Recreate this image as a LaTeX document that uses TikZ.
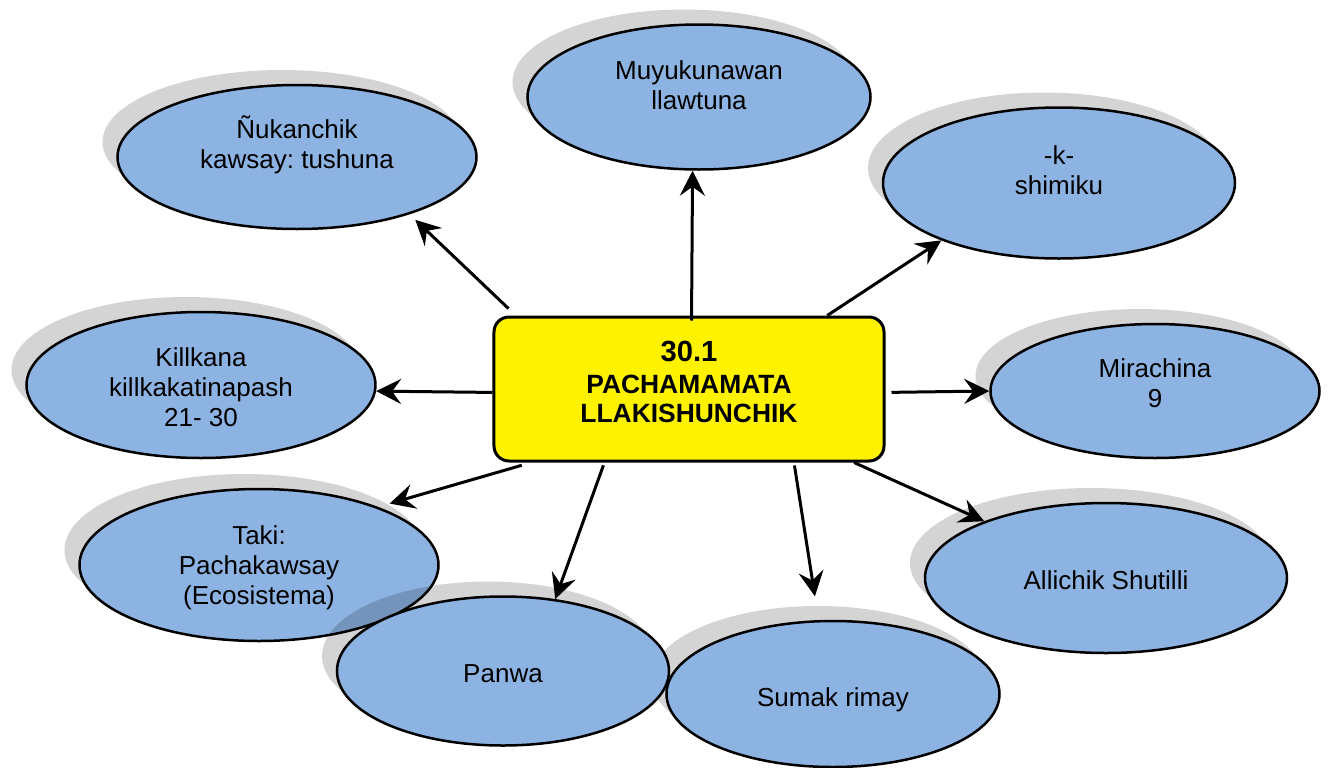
\documentclass[tikz,border=0pt]{standalone}
\usepackage{fontspec}
\setmainfont{Liberation Sans}
\usetikzlibrary{shapes.geometric,shadows,arrows.meta}
\definecolor{bubble}{RGB}{141,179,226}
\frenchspacing

\begin{document}
\begin{tikzpicture}[>={Stealth[length=12.5pt,width=12.5pt,inset=4.5pt]},line width=1.5pt,
    centre node/.style={rectangle,rounded corners=7.5pt,draw,fill=yellow,line width=1.5pt,minimum width=195pt,minimum height=72pt,inner sep=0pt},
    topic node/.style={ellipse,draw,fill=bubble,line width=1.25pt,inner sep=0pt,drop shadow={shadow xshift=-7.5pt,shadow yshift=7.5pt,opacity=0.17,fill=black}},
    topic text/.style={align=center,inner sep=0pt,font=\fontsize{13}{15}\selectfont}]

            \useasboundingbox (-344.5pt,-189pt) rectangle (321.5pt,194.5pt);

            \node[centre node] (c) at (0,0) {};
            \node[align=center,inner sep=0pt,font=\bfseries\fontsize{13.2}{14.5}\selectfont] (c text) at ([yshift=3.75pt]c.center) {{\fontsize{14.6}{16}\selectfont 30.1}\\[1.5pt]PACHAMAMATA\\LLAKISHUNCHIK};

            \node[topic node, minimum width=179.5pt, minimum height=72pt] (nuk) [node distance=116pt, above of = c, xshift = -196pt]{};
            \node[topic text] (nuk text) at ([yshift=6pt]nuk.center) {Ñukanchik\\kawsay: tushuna};
            \node[topic node, minimum width=171.5pt, minimum height=72.5pt] (muyu) [node distance=146pt, above of = c, xshift = 5pt]{};
            \node[topic text] (muyu text) at ([yshift=5.75pt]muyu.center) {Muyukunawan\\llawtuna};
            \node[topic node, minimum width=176pt, minimum height=75.5pt] (kshim) [node distance=103pt, above of = c, xshift = 185pt]{};
            \node[topic text] (kshim text) at ([yshift=6.25pt]kshim.center) {-k-\\shimiku};
            \node[topic node, minimum width=174.5pt, minimum height=73pt] (kill) [node distance=244pt, left of = c, yshift = 2pt]{};
            \node[topic text] (kill text) at ([yshift=-1.25pt]kill.center) {Killkana\\killkakatinapash\\21- 30};
            \node[topic node, minimum width=164.5pt, minimum height=67pt] (mira) [node distance=233pt, right of = c, yshift = -1pt]{};
            \node[topic text] (mira text) at ([yshift=4pt]mira.center) {Mirachina\\9};
            \node[topic node, minimum width=179.5pt, minimum height=76pt] (taki) [node distance=88pt, below of = c, xshift = -215pt]{};
            \node[topic text] (taki text) at ([yshift=-1.5pt]taki.center) {Taki:\\Pachakawsay\\(Ecosistema)};
            \node[topic node, minimum width=181pt, minimum height=75pt] (alli) [node distance=94.5pt, below of = c, xshift = 208.5pt]{};
            \node[topic text] (alli text) at ([yshift=-1pt]alli.center) {Allichik Shutilli};
            \node[topic node, minimum width=166.5pt, minimum height=73pt] (sumak) [node distance=152.5pt, below of = c, xshift = 72pt]{};
            \node[topic text] (sumak text) at ([yshift=-3pt]sumak.center) {Sumak rimay};
            \node[topic node, minimum width=166pt, minimum height=74.5pt] (panwa) [node distance=141pt, below of = c, xshift = -93pt]{};
            \node[topic text] (panwa text) at ([yshift=-1.25pt]panwa.center) {Panwa};

                \draw[->, shorten <=5pt, shorten >=4pt] (c.157) to (nuk.-27);
                \draw[->, shorten <=-2.5pt] (c.88) to (muyu.265);
                \draw[->] (c.28) to (kshim.206);
                \draw[->] (c.181) to (kill.-2);
                \draw[->, shorten <=3pt] (c.-1) to (mira.180);
                \draw[->, shorten <=5pt, shorten >=6pt] (c.205) to (taki.26);
                \draw[->, shorten <=1.5pt] (c.221) to (panwa.54);
                \draw[->, shorten <=1.5pt, shorten >=12pt] (c.-35) to (sumak.101);
                \draw[->] (c.-24) to (alli.155);
            ;
        \end{tikzpicture}
\end{document}
